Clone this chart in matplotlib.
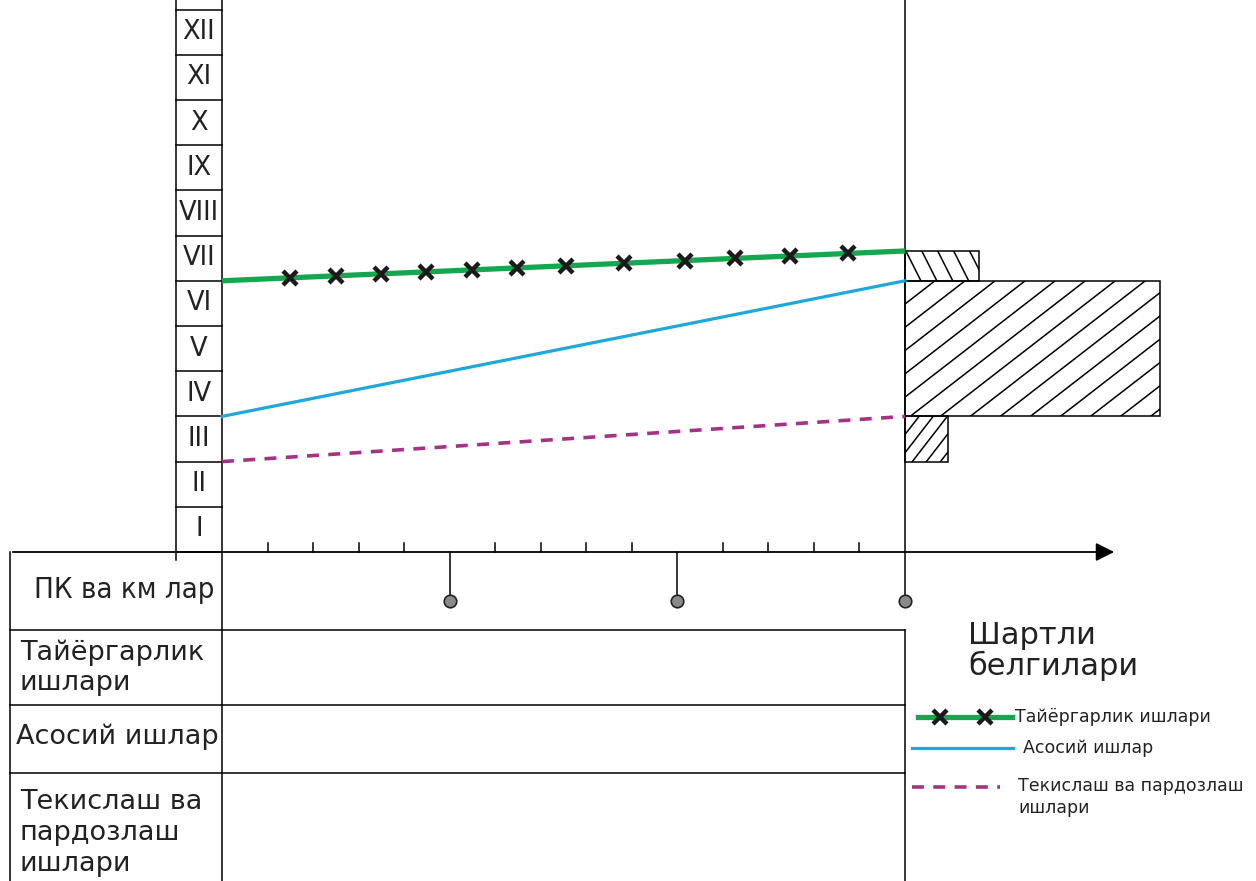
import numpy as np
import matplotlib.pyplot as plt
from matplotlib.patches import Rectangle

plt.rcParams['font.family'] = ['DejaVu Sans']

# months on the vertical scale
months = ['I', 'II', 'III', 'IV', 'V', 'VI', 'VII', 'VIII', 'IX', 'X', 'XI', 'XII']
n_stations = 15          # picket intervals along the route
km_marks = [5, 10, 15]   # kilometre posts

# work lines: (start month, end month)
prep_line = [6.0, 6.66]
main_line = [3.0, 6.0]
finish_line = [2.0, 3.0]
prep_crosses = [1.49, 2.50, 3.49, 4.48, 5.49, 6.48, 7.56, 8.83, 10.17, 11.26, 12.47, 13.75]

# reserve boxes beyond the last station (length in stations)
prep_reserve = 1.63
main_reserve = 5.6
finish_reserve = 0.94

row_labels = ['ПК ва км лар', 'Тайёргарлик\nишлари', 'Асосий ишлар', 'Текислаш ва\nпардозлаш\nишлари']
legend_title = 'Шартли\nбелгилари'
legend_labels = ['Тайёргарлик ишлари', 'Асосий ишлар', 'Текислаш ва пардозлаш\nишлари']

green = '#15a650'
blue = '#1ea7db'
magenta = '#a63283'
ink = '#222222'

# pixel -> data helpers for layout only
X0, SX, Y0, SY = 222, 45.53, 552, 45.2
def px(x):
    return (x - X0) / SX
def py(y):
    return (Y0 - y) / SY

fig = plt.figure(figsize=(12.56, 8.81), dpi=100)
ax = fig.add_axes([0, 0, 1, 1])
ax.set_xlim(px(0), px(1256))
ax.set_ylim(py(881), py(0))
ax.axis('off')

# month column
for i in range(len(months) + 1):
    ax.plot([px(176), 0], [i, i], color='k', lw=1.1)
for i, m in enumerate(months):
    ax.text((px(176)) / 2, i + 0.5, m, ha='center', va='center', fontsize=18.5, color=ink)
ax.plot([px(176), px(176)], [py(0), py(560)], color='k', lw=1.1)
ax.plot([0, 0], [py(0), py(881)], color='k', lw=1.1)

# route axis with arrow
ax.annotate('', xy=(px(1117), 0), xytext=(px(10), 0),
            arrowprops=dict(arrowstyle='-|>', lw=1.3, color='k', mutation_scale=28))
for s in range(1, n_stations):
    if s not in km_marks:
        ax.plot([s, s], [0, 0.2], color='k', lw=1.1)
for s in km_marks:
    ax.plot([s, s], [0, py(601)], color='k', lw=1.1)
    ax.plot(s, py(601), 'o', ms=9, mfc='#8a8a8a', mec='#222', mew=1.2)
ax.plot([n_stations, n_stations], [py(0), 0], color='k', lw=1.1)

# table under the axis
ax.plot([px(10), px(10)], [0, py(881)], color='k', lw=1.1)
for yy in [630, 705, 773]:
    ax.plot([px(10), n_stations], [py(yy), py(yy)], color='k', lw=1.1)
ax.plot([n_stations, n_stations], [py(630), py(881)], color='k', lw=1.1)
ax.text(px(124), py(590), row_labels[0], ha='center', va='center', fontsize=21,
        fontstretch='condensed', color=ink)
ax.text(px(20), py(668), row_labels[1], ha='left', va='center', fontsize=19.5, color=ink, linespacing=1.2)
ax.text(px(16), py(737), row_labels[2], ha='left', va='center', fontsize=19.5, color=ink)
ax.text(px(20), py(833), row_labels[3], ha='left', va='center', fontsize=19.5, color=ink, linespacing=1.25)

# work lines
ax.plot([0, n_stations], prep_line, color=green, lw=3.8, solid_capstyle='butt')
cross_y = np.interp(prep_crosses, [0, n_stations], prep_line)
ax.plot(prep_crosses, cross_y, 'x', ms=10.5, mew=3.2, color='#1a1a1a')
ax.plot([0, n_stations], main_line, color=blue, lw=2.3)
ax.plot([0, n_stations], finish_line, color=magenta, lw=2.6, dashes=[3.3, 2.6])


def hatch_box(x0, y0, w, h, step, slope):
    rect = Rectangle((x0, y0), w, h, fill=False, ec='k', lw=1.1)
    ax.add_patch(rect)
    run = h / abs(slope)
    for c in np.arange(x0 - run, x0 + w + step, step):
        if slope > 0:
            ln, = ax.plot([c, c + run], [y0, y0 + h], color='k', lw=1.1)
        else:
            ln, = ax.plot([c, c + run], [y0 + h, y0], color='k', lw=1.1)
        ln.set_clip_path(rect)


hatch_box(n_stations, prep_line[0], prep_reserve, prep_line[1] - prep_line[0], 0.35, -2.0)
hatch_box(n_stations, main_line[0], main_reserve, main_line[1] - main_line[0], 0.66, 0.78)
hatch_box(n_stations, finish_line[0], finish_reserve, finish_line[1] - finish_line[0], 0.31, 1.3)

# legend
ax.text(px(968), py(651), legend_title, ha='left', va='center', fontsize=22, color=ink, linespacing=1.05)
ax.plot([px(918), px(1012)], [py(717), py(717)], color=green, lw=3.8)
ax.plot([px(940), px(985)], [py(717), py(717)], 'x', ms=10.5, mew=3.2, color='#1a1a1a', lw=0)
ax.text(px(1015), py(717), legend_labels[0], ha='left', va='center', fontsize=12.5, color=ink)
ax.plot([px(912), px(1013)], [py(748), py(748)], color=blue, lw=2.3)
ax.text(px(1023), py(748), legend_labels[1], ha='left', va='center', fontsize=12.5, color=ink)
ax.plot([px(912), px(1000)], [py(787), py(787)], color=magenta, lw=2.6, dashes=[3.3, 2.6])
ax.text(px(1018), py(777), legend_labels[2], ha='left', va='top', fontsize=12.5, color=ink, linespacing=1.3)

fig.savefig('out.png', dpi=100)
